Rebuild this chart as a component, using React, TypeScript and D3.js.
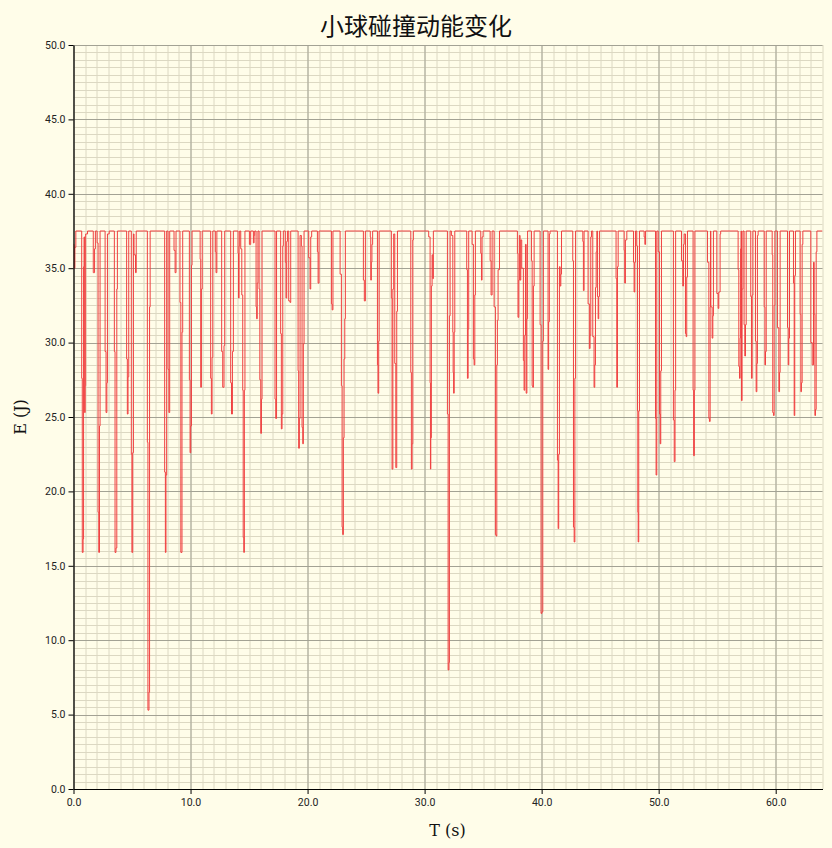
import React, { useEffect, useRef } from 'react';
import * as d3 from 'd3';

const TITLE = '小球碰撞动能变化';
const X_LABEL = 'T (s)';
const Y_LABEL = 'E (J)';
const X_DOMAIN: [number, number] = [0, 64];
const Y_DOMAIN: [number, number] = [0, 50];
const X_TICKS = [0, 10, 20, 30, 40, 50, 60];
const Y_TICKS = [0, 5, 10, 15, 20, 25, 30, 35, 40, 45, 50];
const PLATEAU = 37.5;

// readings [t, E] of every collision dip, drawn as steps; each ends back on the plateau
const DIPS: [number, number][][] = [
  [[0, 36.6], [0.05, 35.0], [0.12, 36.4], [0.2, 37.5]],
  [[0.7, 27.6], [0.75, 15.9], [0.82, 16.8], [0.86, 35.1], [0.9, 37.1], [0.95, 25.3], [1.0, 27.1], [1.04, 37.3], [1.2, 37.5]],
  [[1.69, 34.7], [1.8, 36.3], [1.87, 37.5]],
  [[2.02, 36.7], [2.1, 18.6], [2.16, 15.9], [2.22, 24.4], [2.27, 37.5]],
  [[2.7, 29.4], [2.78, 25.3], [2.85, 27.3], [2.9, 37.3], [3.05, 37.5]],
  [[3.49, 29.4], [3.55, 15.9], [3.63, 16.2], [3.7, 33.6], [3.75, 37.5]],
  [[4.54, 28.9], [4.6, 25.2], [4.66, 27.7], [4.72, 37.5]],
  [[4.94, 22.5], [4.99, 15.9], [5.06, 22.6], [5.12, 37.3], [5.17, 35.9], [5.3, 34.7], [5.36, 37.5]],
  [[6.31, 23.3], [6.36, 5.3], [6.45, 6.5], [6.5, 32.4], [6.55, 37.5]],
  [[7.79, 21.3], [7.85, 15.9], [7.9, 21.1], [7.96, 37.5]],
  [[8.08, 28.2], [8.15, 25.3], [8.22, 37.5]],
  [[8.59, 36.2], [8.68, 34.7], [8.76, 37.5]],
  [[9.1, 32.7], [9.17, 15.9], [9.27, 30.7], [9.33, 37.5]],
  [[9.9, 27.5], [9.96, 22.6], [10.02, 24.4], [10.08, 35.2], [10.13, 37.5]],
  [[10.82, 35.6], [10.87, 27.0], [10.93, 33.6], [11.0, 37.5]],
  [[11.72, 27.6], [11.78, 25.2], [11.84, 29.0], [11.9, 37.5]],
  [[12.12, 36.1], [12.18, 34.7], [12.25, 37.5]],
  [[12.66, 29.4], [12.75, 27.0], [12.86, 29.8], [12.92, 37.5]],
  [[13.43, 27.3], [13.5, 25.2], [13.58, 29.4], [13.66, 37.5]],
  [[14.06, 36.0], [14.1, 33.0], [14.15, 36.5], [14.2, 37.5]],
  [[14.29, 36.3], [14.38, 33.2], [14.46, 26.8], [14.5, 16.9], [14.55, 15.9], [14.6, 26.8], [14.65, 37.5]],
  [[15.03, 36.6], [15.14, 37.5]],
  [[15.37, 36.7], [15.43, 37.2], [15.48, 37.5]],
  [[15.6, 32.4], [15.65, 31.6], [15.7, 34.0], [15.76, 37.5]],
  [[15.86, 33.6], [15.92, 27.5], [16.0, 23.9], [16.06, 26.2], [16.11, 37.5]],
  [[17.22, 26.2], [17.28, 24.9], [17.35, 37.5]],
  [[17.7, 30.6], [17.76, 24.2], [17.82, 25.2], [17.88, 36.5], [17.93, 37.5]],
  [[18.1, 35.4], [18.16, 33.0], [18.22, 36.8], [18.28, 37.5]],
  [[18.39, 32.8], [18.5, 32.7], [18.56, 37.5]],
  [[19.19, 28.1], [19.24, 22.9], [19.3, 24.9], [19.36, 37.2], [19.47, 36.5], [19.53, 24.3], [19.59, 23.2], [19.64, 29.9], [19.7, 37.5]],
  [[20.1, 35.7], [20.21, 33.6], [20.27, 37.1], [20.35, 37.5]],
  [[20.84, 36.1], [20.9, 34.0], [20.98, 37.5]],
  [[22.04, 32.6], [22.1, 32.2], [22.17, 37.5]],
  [[22.78, 34.6], [22.89, 27.1], [22.95, 17.6], [23.0, 17.1], [23.06, 23.6], [23.12, 28.9], [23.18, 31.6], [23.23, 37.5]],
  [[24.77, 34.2], [24.85, 32.8], [24.94, 37.5]],
  [[25.36, 37.1], [25.4, 34.2], [25.45, 35.4], [25.5, 36.6], [25.56, 37.5]],
  [[25.97, 28.5], [26.02, 26.6], [26.08, 30.1], [26.12, 37.5]],
  [[27.16, 33.0], [27.22, 21.5], [27.29, 33.6], [27.36, 37.3], [27.45, 28.6], [27.54, 21.6], [27.62, 32.1], [27.68, 37.5]],
  [[28.82, 28.0], [28.87, 21.5], [28.93, 23.2], [28.99, 36.9], [29.04, 37.5]],
  [[30.35, 37.1], [30.47, 27.3], [30.5, 21.5], [30.53, 23.6], [30.58, 33.8], [30.64, 35.9], [30.7, 34.3], [30.75, 37.5]],
  [[31.95, 25.2], [32.01, 8.0], [32.08, 8.5], [32.12, 31.8], [32.18, 37.5]],
  [[32.29, 37.2], [32.41, 30.7], [32.44, 28.0], [32.48, 26.6], [32.53, 30.7], [32.58, 37.5]],
  [[33.6, 34.9], [33.66, 27.6], [33.72, 30.9], [33.77, 37.5]],
  [[34.06, 36.6], [34.17, 28.9], [34.23, 28.5], [34.29, 33.2], [34.34, 37.5]],
  [[34.8, 36.0], [34.86, 34.2], [34.91, 37.1], [35.0, 37.5]],
  [[35.6, 35.5], [35.68, 33.2], [35.77, 37.5]],
  [[35.94, 32.4], [36.05, 17.1], [36.11, 17.0], [36.17, 28.5], [36.22, 31.5], [36.28, 34.9], [36.4, 37.5]],
  [[37.93, 36.0], [37.98, 31.7], [38.05, 34.2], [38.1, 37.2]],
  [[38.16, 34.2], [38.22, 36.9], [38.3, 35.0], [38.44, 28.8], [38.5, 26.8], [38.56, 30.5], [38.62, 36.6], [38.68, 26.6], [38.74, 31.6], [38.8, 37.5]],
  [[39.13, 35.5], [39.19, 27.1], [39.24, 27.0], [39.3, 33.8], [39.36, 37.5]],
  [[39.87, 31.2], [39.95, 11.8], [40.02, 11.9], [40.1, 30.1], [40.15, 37.5]],
  [[40.55, 28.2], [40.6, 31.4], [40.66, 37.3], [40.72, 37.5]],
  [[41.35, 22.1], [41.41, 17.5], [41.46, 22.5], [41.52, 35.1], [41.58, 33.8], [41.64, 34.6], [41.7, 37.5]],
  [[42.66, 35.5], [42.72, 17.6], [42.78, 16.6], [42.84, 27.6], [42.9, 37.5]],
  [[43.52, 36.8], [43.57, 33.5], [43.63, 37.5]],
  [[43.97, 32.6], [44.08, 29.6], [44.14, 30.5], [44.2, 37.1], [44.26, 37.5]],
  [[44.37, 30.4], [44.48, 27.0], [44.54, 28.5], [44.6, 33.7], [44.66, 36.1], [44.72, 37.5]],
  [[44.77, 33.1], [44.83, 31.6], [44.88, 33.1], [44.94, 37.5]],
  [[46.36, 34.3], [46.42, 27.0], [46.48, 35.1], [46.54, 37.5]],
  [[47.05, 36.2], [47.1, 34.0], [47.16, 36.9], [47.28, 37.5]],
  [[47.85, 35.4], [47.9, 33.4], [47.96, 35.4], [48.02, 37.5]],
  [[48.13, 36.5], [48.19, 25.4], [48.22, 18.6], [48.25, 16.6], [48.3, 25.4], [48.36, 37.5]],
  [[48.76, 37.1], [48.82, 36.6], [48.88, 37.5]],
  [[49.73, 24.9], [49.78, 21.1], [49.84, 37.5]],
  [[49.96, 36.1], [50.07, 25.2], [50.13, 23.2], [50.18, 28.1], [50.24, 37.5]],
  [[51.26, 24.8], [51.33, 22.0], [51.4, 26.8], [51.45, 37.5]],
  [[51.95, 35.5], [52.06, 33.8], [52.12, 36.6], [52.18, 37.3]],
  [[52.29, 30.6], [52.35, 30.4], [52.4, 34.4], [52.46, 37.5]],
  [[52.94, 26.8], [52.99, 22.4], [53.05, 26.8], [53.1, 37.5]],
  [[54.17, 35.4], [54.29, 24.9], [54.34, 24.7], [54.4, 32.4], [54.43, 37.5]],
  [[54.46, 32.4], [54.57, 30.3], [54.63, 31.8], [54.68, 37.5]],
  [[54.97, 33.3], [55.08, 32.3], [55.14, 33.4], [55.25, 37.3], [55.3, 37.5]],
  [[56.79, 34.9], [56.85, 28.4], [56.91, 27.6], [56.96, 30.3], [57.0, 36.3], [57.04, 37.5]],
  [[57.08, 26.1], [57.13, 33.6], [57.2, 37.5]],
  [[57.3, 31.2], [57.36, 29.1], [57.42, 31.2], [57.48, 37.5]],
  [[57.87, 33.1], [57.93, 27.6], [57.99, 33.2], [58.05, 37.5]],
  [[58.27, 30.1], [58.33, 26.7], [58.39, 28.6], [58.44, 37.2], [58.5, 37.5]],
  [[59.02, 32.4], [59.08, 28.5], [59.13, 29.4], [59.19, 37.5]],
  [[59.7, 35.9], [59.75, 25.3], [59.81, 25.1], [59.87, 32.5], [59.93, 37.5]],
  [[60.15, 31.0], [60.27, 26.7], [60.33, 28.0], [60.38, 37.5]],
  [[61.01, 31.0], [61.07, 28.5], [61.12, 30.3], [61.18, 37.5]],
  [[61.52, 34.0], [61.58, 25.1], [61.63, 34.5], [61.69, 37.5]],
  [[62.09, 31.9], [62.15, 26.7], [62.2, 27.3], [62.26, 36.6], [62.32, 37.5]],
  [[63.0, 30.0], [63.12, 28.5], [63.23, 35.4], [63.29, 31.9], [63.35, 25.1], [63.4, 25.5], [63.46, 36.1], [63.52, 37.5]],
];

const App: React.FC = () => {
  const svgRef = useRef<SVGSVGElement>(null);

  useEffect(() => {
    if (!svgRef.current) return;

    const width = 832;
    const height = 848;
    const margin = { top: 45, right: 10, bottom: 59, left: 73 };
    const innerWidth = width - margin.left - margin.right;
    const innerHeight = height - margin.top - margin.bottom;

    const svg = d3.select(svgRef.current)
      .attr('width', width)
      .attr('height', height)
      .html('');

    svg.append('rect')
      .attr('width', width)
      .attr('height', height)
      .attr('fill', '#fffde9');

    const g = svg.append('g')
      .attr('transform', `translate(${margin.left + 0.5},${margin.top})`);

    const x = d3.scaleLinear().domain(X_DOMAIN).range([0, innerWidth]);
    const y = d3.scaleLinear().domain(Y_DOMAIN).range([innerHeight, 0]);

    // minor grid
    const minorX = d3.range(X_DOMAIN[0], X_DOMAIN[1] + 0.001, 1);
    const minorY = d3.range(Y_DOMAIN[0], Y_DOMAIN[1] + 0.001, 0.5);
    g.append('g')
      .selectAll('line.mx')
      .data(minorX)
      .join('line')
      .attr('x1', d => Math.round(x(d)) + 0.5)
      .attr('x2', d => Math.round(x(d)) + 0.5)
      .attr('y1', 0)
      .attr('y2', innerHeight)
      .attr('stroke', '#dcd8c2')
      .attr('stroke-width', 1);
    g.append('g')
      .selectAll('line.my')
      .data(minorY)
      .join('line')
      .attr('x1', 0)
      .attr('x2', innerWidth)
      .attr('y1', d => Math.round(y(d)) + 0.5)
      .attr('y2', d => Math.round(y(d)) + 0.5)
      .attr('stroke', '#dcd8c2')
      .attr('stroke-width', 1);

    // major grid
    g.append('g')
      .selectAll('line')
      .data(X_TICKS)
      .join('line')
      .attr('x1', d => Math.round(x(d)) + 0.5)
      .attr('x2', d => Math.round(x(d)) + 0.5)
      .attr('y1', 0)
      .attr('y2', innerHeight)
      .attr('stroke', '#a3a294')
      .attr('stroke-width', 1);
    g.append('g')
      .selectAll('line')
      .data(Y_TICKS)
      .join('line')
      .attr('x1', 0)
      .attr('x2', innerWidth)
      .attr('y1', d => Math.round(y(d)) + 0.5)
      .attr('y2', d => Math.round(y(d)) + 0.5)
      .attr('stroke', '#a3a294')
      .attr('stroke-width', 1);

    // energy line
    const series: [number, number][] = [];
    DIPS.forEach(dip => dip.forEach(p => series.push(p)));
    series.push([X_DOMAIN[1], PLATEAU]);

    svg.append('clipPath')
      .attr('id', 'plot-clip')
      .append('rect')
      .attr('width', innerWidth)
      .attr('height', innerHeight);

    const line = d3.line<[number, number]>()
      .x(d => x(d[0]))
      .y(d => y(d[1]))
      .curve(d3.curveStepAfter);

    g.append('path')
      .datum(series)
      .attr('clip-path', 'url(#plot-clip)')
      .attr('fill', 'none')
      .attr('stroke', '#f04040')
      .attr('stroke-width', 1)
      .attr('d', line);

    // axes
    const fmt = d3.format('.1f');
    const yAxis = g.append('g')
      .call(d3.axisLeft(y).tickValues(Y_TICKS).tickFormat(d => fmt(d as number)).tickSize(5).tickSizeOuter(0).tickPadding(3));
    const xAxis = g.append('g')
      .attr('transform', `translate(0,${innerHeight})`)
      .call(d3.axisBottom(x).tickValues(X_TICKS).tickFormat(d => fmt(d as number)).tickSize(5).tickSizeOuter(0).tickPadding(5));

    [yAxis, xAxis].forEach(a => {
      a.select('.domain').attr('stroke', '#000').attr('stroke-width', 1.2);
      a.selectAll('.tick line').attr('stroke', '#000');
      a.selectAll('.tick text')
        .attr('fill', '#222')
        .attr('font-family', 'Roboto, sans-serif')
        .attr('font-size', 10.5);
    });

    // title and labels
    svg.append('text')
      .attr('x', width / 2)
      .attr('y', 35)
      .attr('text-anchor', 'middle')
      .attr('font-family', '"Noto Sans CJK SC", sans-serif')
      .attr('font-size', 24)
      .attr('fill', '#111')
      .text(TITLE);

    svg.append('text')
      .attr('x', margin.left + innerWidth / 2)
      .attr('y', 836)
      .attr('text-anchor', 'middle')
      .attr('font-family', '"DejaVu Serif", serif')
      .attr('font-size', 16)
      .attr('fill', '#111')
      .text(X_LABEL);

    svg.append('text')
      .attr('transform', `translate(26,${margin.top + innerHeight / 2}) rotate(-90)`)
      .attr('text-anchor', 'middle')
      .attr('font-family', '"DejaVu Serif", serif')
      .attr('font-size', 16)
      .attr('fill', '#111')
      .text(Y_LABEL);
  }, []);

  return (
    <div style={{ position: 'absolute', left: 0, top: 0 }}>
      <svg ref={svgRef} style={{ display: 'block' }} />
    </div>
  );
};

export default App;
